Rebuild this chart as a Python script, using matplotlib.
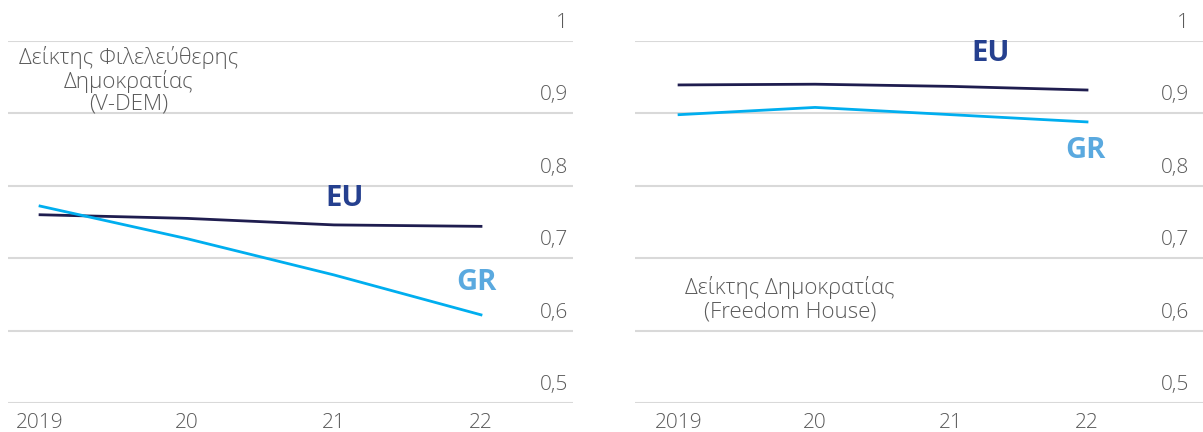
import numpy as np
import matplotlib
matplotlib.use('Agg')
import matplotlib.pyplot as plt
import matplotlib.transforms as mtransforms

plt.rcParams['font.family'] = ['Open Sans', 'DejaVu Sans']

years = [2019, 2020, 2021, 2022]
year_labels = ['2019', '20', '21', '22']
yticks = [0.5, 0.6, 0.7, 0.8, 0.9, 1.0]
ytick_labels = ['0,5', '0,6', '0,7', '0,8', '0,9', '1']

# V-DEM liberal democracy index
vdem_eu = [0.760, 0.755, 0.746, 0.744]
vdem_gr = [0.772, 0.727, 0.677, 0.622]

# Freedom House democracy index
fh_eu = [0.939, 0.940, 0.937, 0.932]
fh_gr = [0.898, 0.908, 0.898, 0.888]

EU_LINE = '#1f1d4f'
GR_LINE = '#00aeef'
EU_TEXT = '#25408f'
GR_TEXT = '#5aa9df'
GRID = '#d9d9d9'
TXT = '#5a5a5a'
FS = 15

fig = plt.figure(figsize=(12.03, 4.32), dpi=100)
ax1 = fig.add_axes([8 / 1203, 0.0664, 565 / 1203, 0.8394])
ax2 = fig.add_axes([635 / 1203, 0.0664, 568 / 1203, 0.8394])


def style(ax, xlim, label_dx):
    ax.set_xlim(*xlim)
    ax.set_ylim(0.5, 1.0)
    for s in ax.spines.values():
        s.set_visible(False)
    ax.set_yticks(yticks)
    ax.set_yticklabels([])
    ax.tick_params(axis='y', length=0)
    ax.grid(axis='y', color=GRID, lw=1.5)
    ax.set_axisbelow(True)
    ax.set_xticks(years)
    ax.set_xticklabels(year_labels, color=TXT, fontsize=FS, fontweight='light')
    ax.tick_params(axis='x', length=0, pad=7)
    # value labels sit above each gridline, inside the plot
    trans = mtransforms.blended_transform_factory(ax.transAxes, ax.transData)
    off = mtransforms.ScaledTranslation(label_dx / 100, 18 / 100, fig.dpi_scale_trans)
    for v, lab in zip(yticks, ytick_labels):
        ax.text(1, v, lab, transform=trans + off, ha='right', va='center',
                fontsize=FS, color=TXT, fontweight='light')


style(ax1, (2018.782, 2022.626), -5)
style(ax2, (2018.676, 2022.853), -14)

ax1.plot(years, vdem_eu, color=EU_LINE, lw=2)
ax1.plot(years, vdem_gr, color=GR_LINE, lw=2)
ax2.plot(years, fh_eu, color=EU_LINE, lw=2)
ax2.plot(years, fh_gr, color=GR_LINE, lw=2)

ax1.text(2021.07, 0.782, 'EU', color=EU_TEXT, fontsize=21, fontweight='bold', ha='center', va='center')
ax1.text(2021.97, 0.666, 'GR', color=GR_TEXT, fontsize=21, fontweight='bold', ha='center', va='center')
ax2.text(2021.29, 0.983, 'EU', color=EU_TEXT, fontsize=21, fontweight='bold', ha='center', va='center')
ax2.text(2021.99, 0.849, 'GR', color=GR_TEXT, fontsize=21, fontweight='bold', ha='center', va='center')

ax1.text(2019.605, 0.945, 'Δείκτης Φιλελεύθερης\nΔημοκρατίας\n(V-DEM)', color=TXT,
         fontsize=16, fontweight='light', ha='center', va='center', linespacing=1.04)
ax2.text(2019.816, 0.644, 'Δείκτης Δημοκρατίας\n(Freedom House)', color=TXT,
         fontsize=16, fontweight='light', ha='center', va='center', linespacing=1.17)

fig.savefig('out.png', dpi=100)
